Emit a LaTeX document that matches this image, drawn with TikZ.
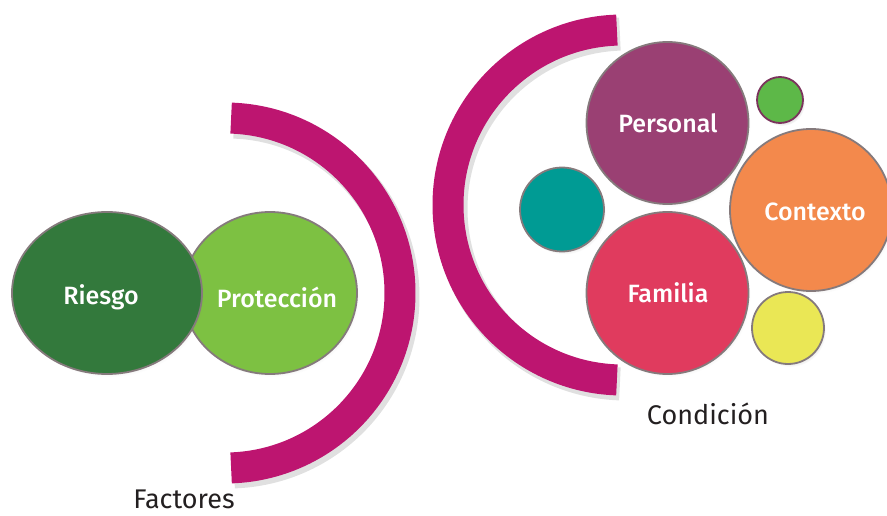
\documentclass[tikz,border=0pt]{standalone}
\usepackage{fontspec}
\setmainfont{Fira Sans}
\newfontfamily\medfont{Fira Sans Medium}
\usetikzlibrary{shapes.geometric,shadows}
\definecolor{riesgoc}{HTML}{33793C}
\definecolor{proteccionc}{HTML}{7DC142}
\definecolor{personalc}{HTML}{9A4073}
\definecolor{familiac}{HTML}{E03B5E}
\definecolor{contextoc}{HTML}{F3894C}
\definecolor{tealc}{HTML}{009B94}
\definecolor{smallgreenc}{HTML}{5DB848}
\definecolor{yellowc}{HTML}{EAE755}
\definecolor{borderc}{HTML}{857A7C}
\definecolor{arcc}{HTML}{BD1570}
\definecolor{textdark}{HTML}{231F20}
\begin{document}
\begin{tikzpicture}[x=1pt,y=-1pt,
  bub/.style={circle,draw=borderc,line width=1.8pt,inner sep=0pt,
    circular drop shadow={opacity=0.22,shadow xshift=2pt,shadow yshift=-3pt,shadow scale=1.0}},
  ell/.style={ellipse,draw=borderc,line width=1.8pt,inner sep=0pt,
    circular drop shadow={opacity=0.22,shadow xshift=2pt,shadow yshift=-3pt,shadow scale=1.0}},
  wlabel/.style={text=white,font=\medfont\fontsize{25}{28}\selectfont,inner sep=0pt},
  dlabel/.style={text=textdark,font=\fontsize{27}{30}\selectfont,inner sep=0pt},
  arcstyle/.style={draw=arcc,line width=31pt},
  arcshadow/.style={draw=black,opacity=0.12,line width=33pt}
]
\useasboundingbox (0,0) rectangle (887,516);

% arcs (shadow first)
\draw[arcshadow] (228,297) ++(-88:175) arc[start angle=-88,end angle=88,radius=175];
\draw[arcstyle] (225,293) ++(-88:175) arc[start angle=-88,end angle=88,radius=175];
\draw[arcshadow] (626,209) ++(268:175) arc[start angle=268,end angle=92,radius=175];
\draw[arcstyle] (623,205) ++(268:175) arc[start angle=268,end angle=92,radius=175];

% left ellipses
\node[ell,fill=proteccionc,minimum width=174pt,minimum height=162pt] (proteccion) at (270,293) {};
\node[ell,fill=riesgoc,minimum width=190pt,minimum height=162pt] (riesgo) at (107,293) {};
\node[wlabel] (triesgo) at (101,297) {Riesgo};
\node[wlabel] (tproteccion) at (277,297) {Protección};

% right bubbles
\node[bub,fill=tealc,minimum size=84pt] (teal) at (562,209.5) {};
\node[bub,fill=smallgreenc,draw=personalc!80!black,minimum size=46pt] (sgreen) at (780,100) {};
\node[bub,fill=yellowc,minimum size=72pt] (yellow) at (788,328) {};
\node[bub,fill=personalc,minimum size=162pt] (personal) at (667.5,123) {};
\node[bub,fill=familiac,minimum size=162pt] (familia) at (667.5,293) {};
\node[bub,fill=contextoc,minimum size=162pt] (contexto) at (811,210) {};
\node[wlabel] (tpersonal) at (668,123) {Personal};
\node[wlabel] (tfamilia) at (668,293) {Familia};
\node[wlabel] (tcontexto) at (815,212) {Contexto};

% captions
\node[dlabel] (factores) at (184,499) {Factores};
\node[dlabel] (condicion) at (708,414) {Condición};
\end{tikzpicture}
\end{document}
